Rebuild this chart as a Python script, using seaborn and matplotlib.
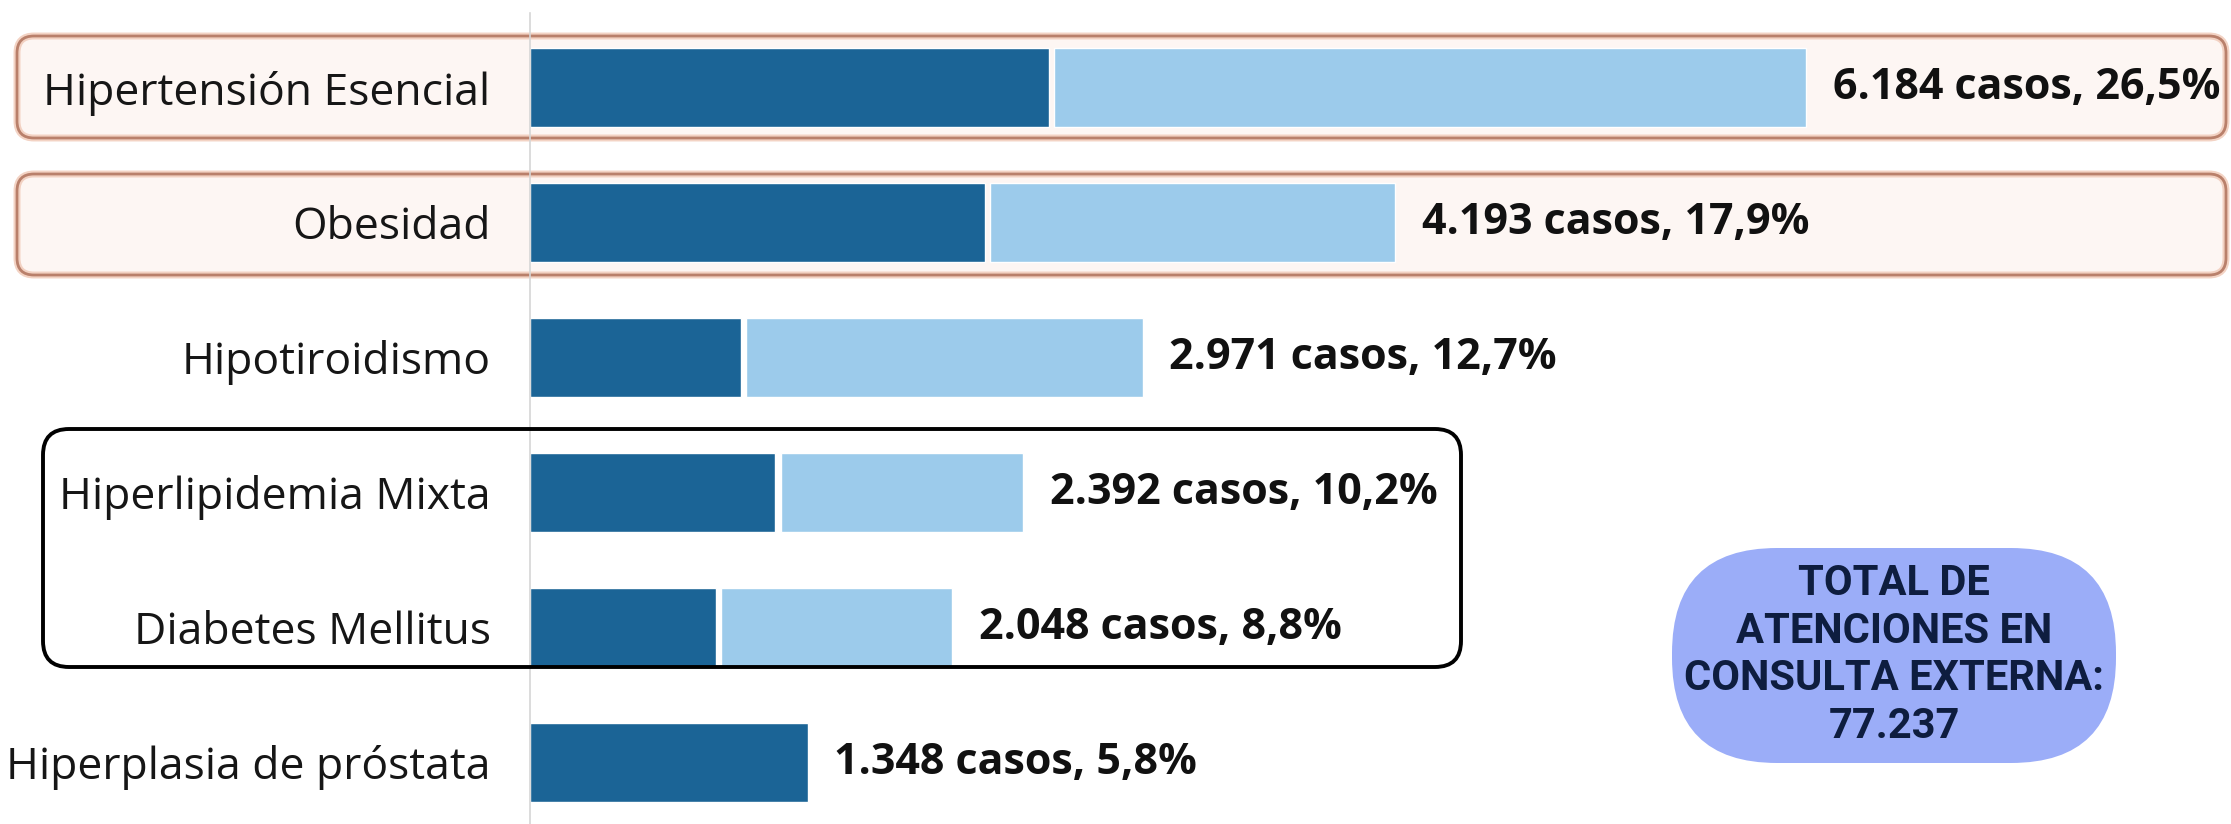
import numpy as np
import pandas as pd
import matplotlib.pyplot as plt
import seaborn as sns
from matplotlib.patches import FancyBboxPatch
from matplotlib.transforms import IdentityTransform

# Datos
categorias = ["Hipertensión Esencial", "Obesidad", "Hipotiroidismo",
              "Hiperlipidemia Mixta", "Diabetes Mellitus", "Hiperplasia de próstata"]
casos = [6184, 4193, 2971, 2392, 2048, 1348]
hombres = [2514, 2205, 1024, 1191, 901, 1348]
mujeres = [3670, 1988, 1947, 1201, 1147, 0]
porcentajes = [26.5, 17.9, 12.7, 10.2, 8.8, 5.8]
total_atenciones = 77237

W, H, DPI = 2231, 824, 100
OSCURO = "#1b6496"
CLARO = "#9ccbeb"

sns.set_theme(style="white")
plt.rcParams['font.family'] = ['Open Sans', 'DejaVu Sans']

df = pd.DataFrame({"categoria": categorias, "casos": casos,
                   "hombres": hombres, "mujeres": mujeres})
brecha = 25  # separacion blanca entre segmentos, en casos
df["mujeres_vis"] = np.maximum(df["mujeres"] - brecha, 0)

fig = plt.figure(figsize=(W / DPI, H / DPI), dpi=DPI)
fig.patch.set_facecolor("white")
ax = fig.add_axes([529.5 / W, 0, (W - 529.5) / W, 811 / H])
ax.patch.set_alpha(0)

# segmento oscuro
sns.barplot(data=df, x="hombres", y="categoria", order=categorias,
            color=OSCURO, saturation=1, width=0.58, ax=ax)
# segmento claro, apilado a continuacion
sns.barplot(data=df, x="mujeres_vis", y="categoria", order=categorias,
            color=CLARO, saturation=1, width=0.58, ax=ax,
            left=df["hombres"].to_numpy() + brecha)

for i, (c, p) in enumerate(zip(casos, porcentajes)):
    txt = f"{c:,}".replace(",", ".") + " casos, " + f"{p:.1f}".replace(".", ",") + "%"
    ax.annotate(txt, xy=(c, i), xytext=(19, 0), textcoords="offset points",
                ha="left", va="center", fontsize=31, fontweight="bold", color="#111111")

ax.set_xlim(0, 8240)
ax.set_ylim(5.456, -0.552)
ax.set_xlabel("")
ax.set_ylabel("")
ax.set_xticks([])
for s in ["top", "right", "bottom"]:
    ax.spines[s].set_visible(False)
ax.spines["left"].set_color("#d6d6d6")
ax.spines["left"].set_linewidth(1.2)
ax.tick_params(axis="y", length=0, pad=28, labelsize=32, labelcolor="#161616")


def caja(x0, y0, x1, y1, r, **kw):
    # coordenadas en pixeles de la imagen (origen arriba a la izquierda)
    p = FancyBboxPatch((x0, H - y1), x1 - x0, y1 - y0,
                       boxstyle=f"round,pad=0,rounding_size={r}",
                       transform=IdentityTransform(), **kw)
    fig.add_artist(p)
    return p


# cajas rosadas resaltando las dos primeras filas
for y0, y1 in [(36, 138), (174, 275)]:
    caja(17, y0, 2226, y1, 17, facecolor="#fdf4f0", edgecolor="#f0c8b6",
         linewidth=5, alpha=0.8, zorder=-2)
    caja(17, y0, 2226, y1, 17, facecolor="none", edgecolor="#b9806b",
         linewidth=2.0, zorder=-1)

# caja negra
caja(43, 429, 1461, 667, 26, facecolor="none", edgecolor="black",
     linewidth=2.8, zorder=3)

# etiqueta total
caja(1672, 548, 2116, 763, 105, facecolor="#9badf8", edgecolor="none", zorder=3)
total_txt = "TOTAL DE\nATENCIONES EN\nCONSULTA EXTERNA:\n" + f"{total_atenciones:,}".replace(",", ".")
fig.text(1894 / W, 1 - 655 / H, total_txt, ha="center", va="center",
         fontsize=30, fontweight="bold", family=["Roboto", "DejaVu Sans"],
         color="#0e1d3f", linespacing=1.2, zorder=4)

fig.savefig("out.png", dpi=DPI, facecolor="white")
